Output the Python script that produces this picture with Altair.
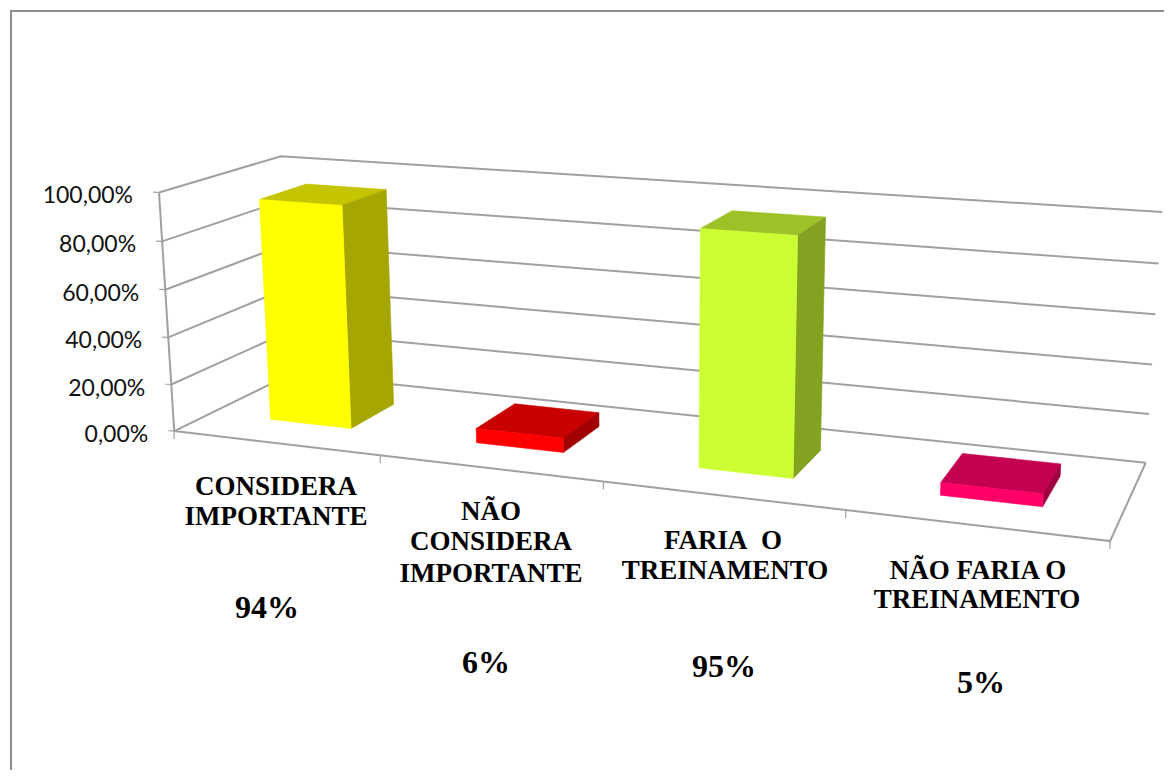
import altair as alt
import numpy as np
import pandas as pd

# ---- data
values = [0.94, 0.06, 0.95, 0.05]
front_colors = ["#FFFF00", "#FF0000", "#CCFF33", "#FF0066"]
top_colors = ["#C4C400", "#C80000", "#9DC228", "#C40050"]
side_colors = ["#A6A600", "#A00000", "#83A320", "#A00042"]
axis_ticks = [0.0, 0.2, 0.4, 0.6, 0.8, 1.0]
axis_labels = ["0,00%", "20,00%", "40,00%", "60,00%", "80,00%", "100,00%"]
cat_lines = ["CONSIDERA", "IMPORTANTE", "NÃO", "CONSIDERA", "IMPORTANTE",
             "FARIA\u00a0\u00a0O", "TREINAMENTO", "NÃO FARIA O", "TREINAMENTO"]
cat_x = [276, 276, 491, 491, 491, 723, 725, 978, 977]
cat_y = [495, 525, 520, 550, 582, 549, 579, 579, 608]
pct_labels = ["94%", "6%", "95%", "5%"]
pct_x = [267, 486, 724, 981]
pct_y = [618, 673, 677, 693]

# ---- camera calibration: (category, value, depth) -> picture position
world = [(0, 0, 0), (0, 1, 0), (0, 1, 1), (0, 0, 1), (4, 1, 1), (4, 0, 1), (4, 0, 0),
         (1, 0, 0), (2, 0, 0), (3, 0, 0), (0, .2, 0), (0, .4, 0), (0, .6, 0), (0, .8, 0),
         (4, .2, 1), (4, .4, 1), (4, .6, 1), (4, .8, 1),
         (.3, .94, .3), (.7, .94, .3), (.3, .94, .7), (.7, .94, .7), (.3, 0, .3), (.7, 0, .3), (.7, 0, .7),
         (2.3, .95, .3), (2.7, .95, .3), (2.3, .95, .7), (2.7, .95, .7), (2.3, 0, .3), (2.7, 0, .3), (2.7, 0, .7)]
image = [(175, 432), (159, 193), (280, 155), (293, 373), (1162, 213), (1146, 462), (1110, 541),
         (380, 456), (602, 481), (846, 510), (172, 383), (168, 338), (165, 290), (162, 241),
         (1149, 414), (1152, 364), (1155, 315), (1159, 264),
         (260, 200), (343, 206), (306, 184), (386, 190), (269, 420), (351, 428), (393, 405),
         (702, 228), (798, 234), (731, 211), (825, 217), (699, 467), (794, 478), (821, 452)]
A, b = [], []
for (X, Y, Z), (u, v) in zip(world, image):
    A.append([X, Y, Z, 1, 0, 0, 0, 0, -u * X, -u * Y, -u * Z]); b.append(u)
    A.append([0, 0, 0, 0, X, Y, Z, 1, -v * X, -v * Y, -v * Z]); b.append(v)
p = np.linalg.lstsq(np.array(A, float), np.array(b, float), rcond=None)[0]
P = np.append(p, 1.0).reshape(3, 4)


def proj(X, Y, Z):
    q = P @ np.array([X, Y, Z, 1.0])
    return float(q[0] / q[2]), float(q[1] / q[2])


W, H = 1156, 762
xs = alt.Scale(domain=[8, 8 + W], nice=False, zero=False)
ys = alt.Scale(domain=[8 + H, 8], nice=False, zero=False)


def polyline(points, **mark):
    df = pd.DataFrame({"px": [a for a, _ in points], "py": [c for _, c in points],
                       "i": range(len(points))})
    return alt.Chart(df).mark_line(interpolate="linear", **mark).encode(
        x=alt.X("px:Q", scale=xs, axis=None),
        y=alt.Y("py:Q", scale=ys, axis=None),
        order="i:Q",
    )


def texts(strs, px, py, **mark):
    df = pd.DataFrame({"t": strs, "px": px, "py": py})
    return alt.Chart(df).mark_text(**mark).encode(
        x=alt.X("px:Q", scale=xs, axis=None),
        y=alt.Y("py:Q", scale=ys, axis=None),
        text="t:N",
    )


GRID = "#A0A0A0"
layers = [polyline([(11, 8 + H), (11, 11), (8 + W, 11)], stroke="#8E8E8E", strokeWidth=2)]

# walls and floor
for t in axis_ticks:
    layers.append(polyline([proj(0, t, 0), proj(0, t, 1), proj(4, t, 1)], stroke=GRID, strokeWidth=2))
layers.append(polyline([proj(0, 0, 0), proj(0, 1, 0)], stroke=GRID, strokeWidth=2))
layers.append(polyline([proj(0, 0, 0), proj(4, 0, 0), proj(4, 0, 1)], stroke=GRID, strokeWidth=2))
for c in range(0, 5):
    a = proj(c, 0, 0)
    layers.append(polyline([a, (a[0] - 0.3, a[1] + 8)], stroke=GRID, strokeWidth=1.2))
for t in axis_ticks:
    a = proj(0, t, 0)
    layers.append(polyline([a, (a[0] - 6, a[1] - 0.3)], stroke=GRID, strokeWidth=1.2))

# bars
x0, x1, z0, z1 = 0.3, 0.7, 0.3, 0.7
for i, v in enumerate(values):
    L, R = i + x0, i + x1
    faces = [
        ([(L, v, z0), (L, v, z1), (R, v, z1), (R, v, z0)], top_colors[i]),
        ([(R, 0, z0), (R, 0, z1), (R, v, z1), (R, v, z0)], side_colors[i]),
        ([(L, 0, z0), (R, 0, z0), (R, v, z0), (L, v, z0)], front_colors[i]),
    ]
    for corners, col in faces:
        pts = [proj(*c) for c in corners]
        pts.append(pts[0])
        layers.append(polyline(pts, fill=col, stroke=col, strokeWidth=0.6))

# text
ax = [proj(0, t, 0) for t in axis_ticks]
layers.append(texts(axis_labels, [a[0] - 26 for a in ax], [a[1] + 4 for a in ax],
                    align="right", baseline="middle", font="Lato", fontSize=23, color="#111111"))
layers.append(texts(cat_lines, cat_x, cat_y, align="center", baseline="alphabetic",
                    font="Liberation Serif", fontWeight="bold", fontSize=27, color="#000000"))
layers.append(texts(pct_labels, pct_x, pct_y, align="center", baseline="alphabetic",
                    font="Liberation Serif", fontWeight="bold", fontSize=32, color="#000000"))

chart = alt.layer(*layers).properties(
    width=W, height=H, padding=0, autosize=alt.AutoSizeParams(type="none"), background="white"
).configure_view(stroke=None)
chart.save("out.html", embed_options={"renderer": "svg", "actions": False})
